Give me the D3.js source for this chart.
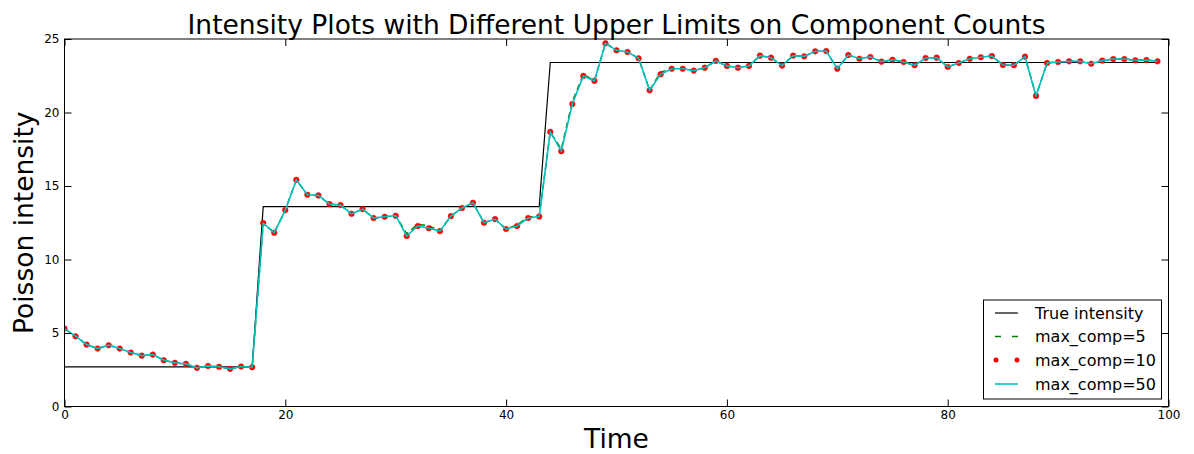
<!DOCTYPE html>
<html><head><meta charset="utf-8">
<script src="https://cdn.jsdelivr.net/npm/d3@7"></script>
<style>body{margin:0;background:#fff;}svg{display:block;font-family:"DejaVu Sans",sans-serif;}</style>
</head><body><div id="chart"></div>
<script>
const times = d3.range(0, 100);
const trueIntensity = times.map(t => t < 18 ? 2.7 : (t < 44 ? 13.6 : 23.4));
const comp50 = [5.3,4.78,4.21,3.94,4.17,3.94,3.67,3.46,3.53,3.15,
 2.97,2.90,2.63,2.76,2.70,2.56,2.72,2.67,12.48,11.82,
 13.36,15.42,14.40,14.36,13.77,13.70,13.11,13.43,12.82,12.91,
 12.98,11.60,12.28,12.13,11.93,12.95,13.50,13.86,12.50,12.75,
 12.07,12.28,12.82,12.93,18.68,17.37,20.58,22.49,22.15,24.71,
 24.23,24.12,23.69,21.51,22.60,22.98,22.98,22.85,23.05,23.51,
 23.17,23.05,23.17,23.87,23.73,23.19,23.87,23.82,24.16,24.18,
 22.98,23.91,23.66,23.78,23.46,23.59,23.44,23.21,23.71,23.73,
 23.10,23.37,23.66,23.76,23.84,23.23,23.21,23.80,21.13,23.37,
 23.44,23.48,23.48,23.32,23.53,23.64,23.64,23.55,23.57,23.48];
const comp10 = comp50.slice();
const comp5 = comp50.map((v, i) => ({31:11.75, 32:12.40, 33:12.30, 41:12.35, 42:12.90, 45:17.50, 46:20.75, 47:22.60, 54:22.75}[i] ?? v));
const xTicks = [0, 20, 40, 60, 80, 100];
const yTicks = [0, 5, 10, 15, 20, 25];
const legendLabels = ["True intensity", "max_comp=5", "max_comp=10", "max_comp=50"];

const W = 1194, H = 454;
const m = {left: 64.5, right: W - 1168.5, top: 39, bottom: H - 406.5};
const svg = d3.select("#chart").append("svg").attr("width", W).attr("height", H);
const x = d3.scaleLinear().domain([0, 100]).range([m.left, W - m.right]);
const y = d3.scaleLinear().domain([0, 25]).range([H - m.bottom, m.top]);

const line = arr => d3.line().x((d, i) => x(times[i])).y(d => y(d))(arr);

const clip = svg.append("clipPath").attr("id", "clip").append("rect")
  .attr("x", x(0)).attr("y", y(25)).attr("width", x(100) - x(0)).attr("height", y(0) - y(25));
const g = svg.append("g").attr("clip-path", "url(#clip)");
g.append("path").attr("d", line(trueIntensity)).attr("fill", "none").attr("stroke", "#000").attr("stroke-width", 1.2);
g.append("path").attr("d", line(comp5)).attr("fill", "none").attr("stroke", "#008000").attr("stroke-width", 1.5).attr("stroke-dasharray", "6,4");
g.selectAll("circle.c10").data(comp10).join("circle").attr("class", "c10")
  .attr("cx", (d, i) => x(times[i])).attr("cy", d => y(d)).attr("r", 2.8).attr("fill", "#ff0000").attr("stroke", "#ff0000").attr("stroke-width", 0.5);
g.append("path").attr("d", line(comp50)).attr("fill", "none").attr("stroke", "#00bfbf").attr("stroke-width", 1.6);

// axes
const tickLen = 7;
const axB = svg.append("g").attr("transform", `translate(0,${y(0)})`).call(d3.axisBottom(x).tickValues(xTicks).tickSize(-tickLen).tickPadding(4).tickFormat(d3.format("d")));
const axT = svg.append("g").attr("transform", `translate(0,${y(25)})`).call(d3.axisTop(x).tickValues(xTicks).tickSize(-tickLen).tickFormat(""));
const axL = svg.append("g").attr("transform", `translate(${x(0)},0)`).call(d3.axisLeft(y).tickValues(yTicks).tickSize(-tickLen).tickPadding(5).tickFormat(d3.format("d")));
const axR = svg.append("g").attr("transform", `translate(${x(100)},0)`).call(d3.axisRight(y).tickValues(yTicks).tickSize(-tickLen).tickFormat(""));
[axB, axT, axL, axR].forEach(a => {
  a.select(".domain").remove();
  a.selectAll("line").attr("stroke", "#000").attr("stroke-width", 1);
  a.selectAll("text").attr("font-size", 12).attr("fill", "#000").attr("font-family", "DejaVu Sans");
});
svg.append("rect").attr("x", x(0)).attr("y", y(25)).attr("width", x(100) - x(0)).attr("height", y(0) - y(25))
  .attr("fill", "none").attr("stroke", "#000").attr("stroke-width", 1);

svg.append("text").attr("x", (x(0) + x(100)) / 2).attr("y", 34).attr("text-anchor", "middle").attr("font-size", 26.5).text("Intensity Plots with Different Upper Limits on Component Counts");
svg.append("text").attr("x", (x(0) + x(100)) / 2).attr("y", 448).attr("text-anchor", "middle").attr("font-size", 26.5).text("Time");
svg.append("text").attr("transform", `translate(33,${(y(0) + y(25)) / 2}) rotate(-90)`).attr("text-anchor", "middle").attr("font-size", 26.5).text("Poisson intensity");

// legend
const lg = svg.append("g");
lg.append("rect").attr("x", 983.5).attr("y", 300).attr("width", 178).attr("height", 99).attr("fill", "#fff").attr("stroke", "#000").attr("stroke-width", 1);
const rows = [313, 336.5, 360, 384];
const lx1 = 995, lx2 = 1018;
lg.append("line").attr("x1", lx1).attr("x2", lx2).attr("y1", rows[0]).attr("y2", rows[0]).attr("stroke", "#000").attr("stroke-width", 1.2);
lg.append("line").attr("x1", lx1).attr("x2", lx2).attr("y1", rows[1]).attr("y2", rows[1]).attr("stroke", "#008000").attr("stroke-width", 1.5).attr("stroke-dasharray", "6,11");
[lx1 + 1, lx2 - 1].forEach(cx => lg.append("circle").attr("cx", cx).attr("cy", rows[2]).attr("r", 2.5).attr("fill", "#ff0000"));
lg.append("line").attr("x1", lx1).attr("x2", lx2).attr("y1", rows[3]).attr("y2", rows[3]).attr("stroke", "#00bfbf").attr("stroke-width", 1.6);
legendLabels.forEach((t, i) => lg.append("text").attr("x", 1035).attr("y", rows[i] + 5.5).attr("font-size", 16).text(t));
</script></body></html>
